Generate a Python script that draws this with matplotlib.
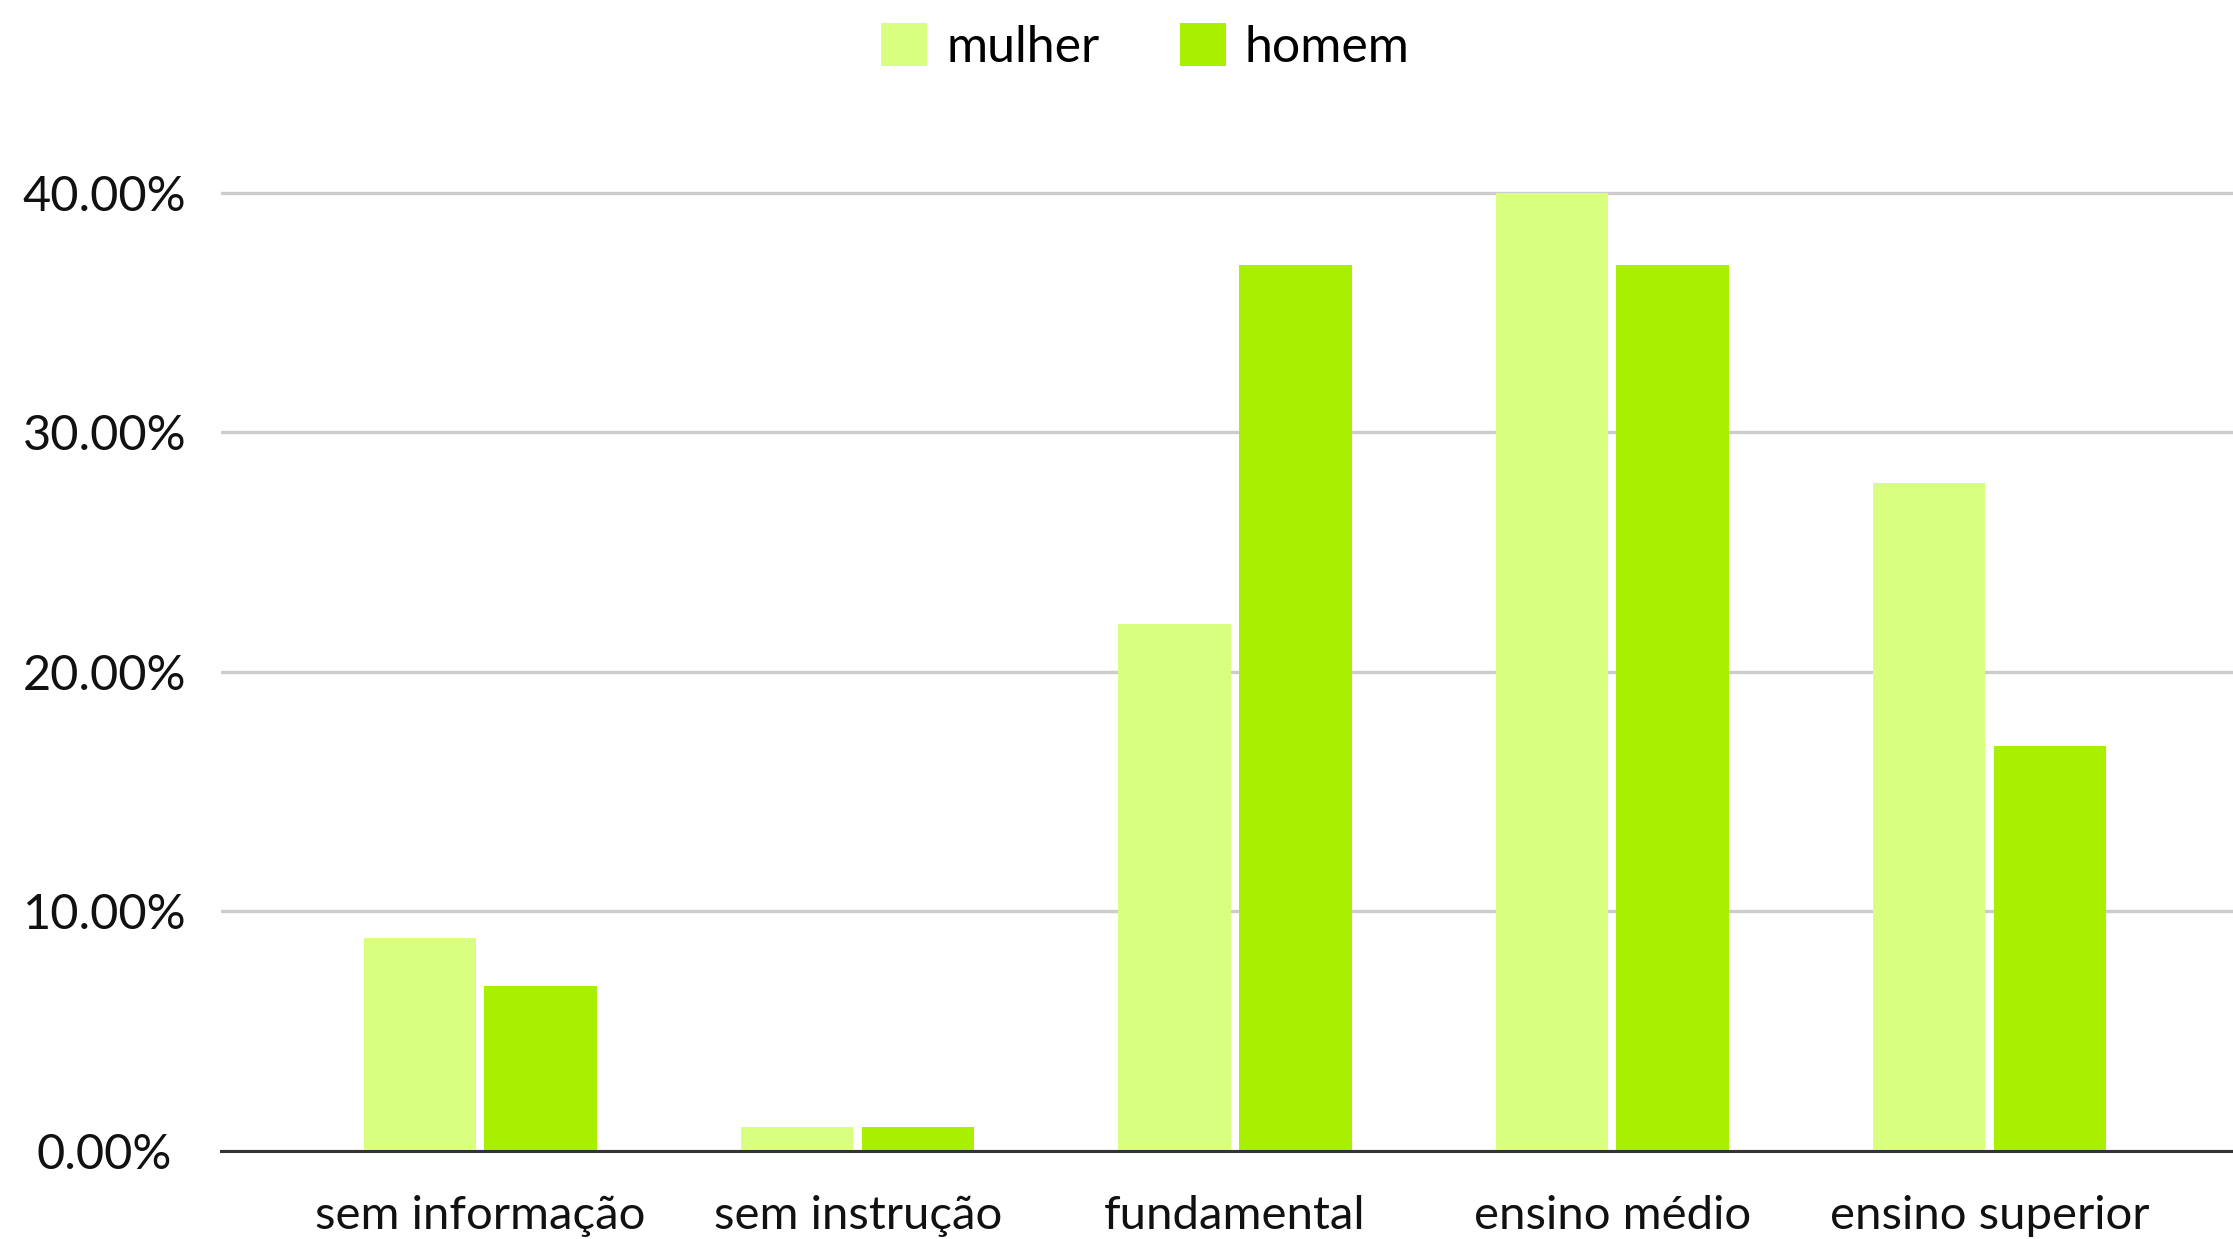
import matplotlib
matplotlib.use("Agg")
import matplotlib.pyplot as plt
from matplotlib.patches import Patch
from matplotlib.ticker import FuncFormatter
import numpy as np

plt.rcParams["font.family"] = ["Lato", "DejaVu Sans"]

# ── Data ─────────────────────────────────────────────────

categories = ["sem informação", "sem instrução", "fundamental", "ensino médio", "ensino superior"]
mulher = [8.9, 1.0, 22.0, 40.0, 27.9]
homem = [6.9, 1.0, 37.0, 37.0, 16.9]
y_ticks = [0, 10, 20, 30, 40]

COLOR_MULHER = "#D9FF80"
COLOR_HOMEM = "#A8EF00"

# ── Plot ─────────────────────────────────────────────────

fig = plt.figure(figsize=(22.33, 12.39), dpi=100)
ax = fig.add_axes([0.099, 0.071, 0.901, 0.870])

x = np.arange(len(categories))
width = 0.298
offset = 0.16

ax.bar(x - offset, mulher, width, color=COLOR_MULHER, zorder=3)
ax.bar(x + offset, homem, width, color=COLOR_HOMEM, zorder=3)

ax.set_xlim(-0.687, 4.645)
ax.set_ylim(0, 45)

ax.set_yticks(y_ticks)
ax.yaxis.set_major_formatter(FuncFormatter(lambda v, _: f"{v:.2f}%"))
ax.grid(axis="y", color="#CCCCCC", linewidth=2.4, zorder=0)
ax.set_xticks(x)
ax.set_xticklabels(categories)

ax.tick_params(axis="y", length=0, pad=84, labelsize=35, labelcolor="#111111")
ax.tick_params(axis="x", length=0, pad=32, labelsize=34, labelcolor="#111111")
for lbl in ax.get_yticklabels():
    lbl.set_horizontalalignment("center")

for s in ["top", "right", "left"]:
    ax.spines[s].set_visible(False)
ax.spines["bottom"].set_color("#333333")
ax.spines["bottom"].set_linewidth(2.2)
ax.spines["bottom"].set_zorder(4)

handles = [Patch(facecolor=COLOR_MULHER, label="mulher"),
           Patch(facecolor=COLOR_HOMEM, label="homem")]
fig.legend(handles=handles, loc="center", bbox_to_anchor=(0.513, 0.962), ncol=2,
           frameon=False, fontsize=36, handlelength=0.92, handleheight=0.92,
           handletextpad=0.38, columnspacing=1.6)

fig.savefig("out.png", dpi=100)
